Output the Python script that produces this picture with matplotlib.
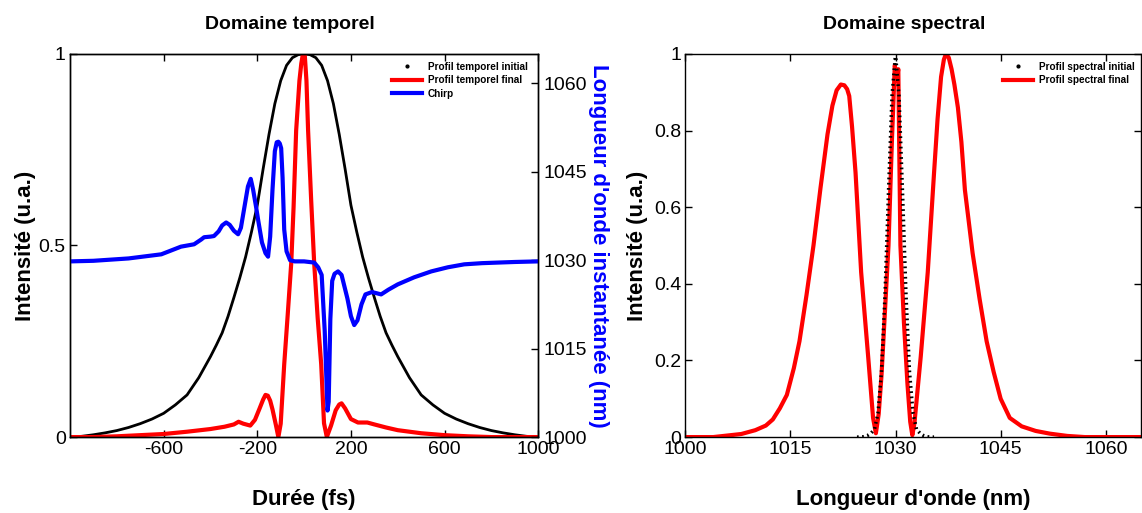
import matplotlib
matplotlib.use("Agg")
import matplotlib.pyplot as plt
from matplotlib.lines import Line2D

plt.rcParams["font.family"] = ["Liberation Sans", "DejaVu Sans"]
plt.rcParams["axes.unicode_minus"] = False

# ---------- temporal domain ----------
t_init = [-1000, -950, -900, -850, -800, -750, -700, -650, -600, -550, -500, -450, -400, -375, -350, -325,
          -300, -275, -250, -225, -200, -175, -150, -125, -100, -75, -50, -25, 0,
          25, 50, 75, 100, 125, 150, 175, 200, 225, 250, 275, 300, 325, 350, 375, 400,
          450, 500, 550, 600, 650, 700, 750, 800, 850, 900, 950, 1000]
I_init = [0.0, 0.002, 0.006, 0.011, 0.017, 0.025, 0.035, 0.047, 0.062, 0.084, 0.11, 0.155, 0.21, 0.24, 0.272,
          0.315, 0.364, 0.415, 0.47, 0.535, 0.605, 0.7, 0.79, 0.87, 0.93, 0.97, 0.99, 0.998, 1.0,
          0.998, 0.99, 0.97, 0.93, 0.87, 0.79, 0.7, 0.605, 0.535, 0.47, 0.415, 0.364, 0.315, 0.272, 0.24, 0.21,
          0.155, 0.11, 0.084, 0.062, 0.047, 0.035, 0.025, 0.017, 0.011, 0.006, 0.002, 0.0]

t_fin = [-1000, -900, -800, -700, -600, -500, -400, -340, -300, -280, -260, -230, -210, -190, -175, -165, -155,
         -145, -135, -120, -110, -100, -85, -70, -55, -45, -34, -20, -12, -5, 3, 10, 17, 30, 43, 58, 73, 85, 97,
         115, 135, 150, 160, 175, 200, 230, 270, 300, 350, 400, 500, 600, 700, 800, 900, 1000]
I_fin = [0.0, 0.0, 0.002, 0.005, 0.008, 0.014, 0.021, 0.027, 0.033, 0.04, 0.035, 0.03, 0.045, 0.075, 0.098, 0.11,
         0.108, 0.095, 0.072, 0.03, 0.0, 0.035, 0.19, 0.32, 0.454, 0.6, 0.8, 0.93, 0.975, 1.0, 0.995, 0.93, 0.8,
         0.62, 0.454, 0.31, 0.19, 0.036, 0.0, 0.03, 0.07, 0.085, 0.088, 0.075, 0.047, 0.038, 0.038, 0.033, 0.025,
         0.018, 0.01, 0.005, 0.002, 0.0, 0.0, 0.0]

t_chirp = [-1000, -900, -750, -610, -526, -470, -440, -427, -400, -385, -365, -350, -333, -318, -300, -282,
           -270, -255, -240, -228, -218, -205, -195, -180, -165, -154, -145, -135, -125, -117, -110, -104, -98,
           -92, -85, -75, -60, -40, 0, 43, 60, 75, 88, 100, 105, 112, 120, 130, 145, 160, 185, 200, 214, 228,
           245, 262, 290, 329, 360, 400, 470, 543, 614, 684, 760, 829, 900, 1000]
lam_chirp = [1029.8, 1029.9, 1030.3, 1031.0, 1032.3, 1032.7, 1033.5, 1033.9, 1034.0, 1034.1, 1034.9, 1035.9,
             1036.4, 1036.0, 1035.0, 1034.4, 1035.5, 1039.0, 1042.5, 1043.8, 1042.0, 1039.0, 1036.5, 1033.0,
             1031.2, 1030.6, 1034.0, 1042.0, 1048.5, 1050.0, 1050.1, 1049.8, 1049.0, 1044.0, 1035.2, 1031.5,
             1030.0, 1029.8, 1029.8, 1029.6, 1028.8, 1027.5, 1018.0, 1004.5, 1006.0, 1020.0, 1026.5, 1027.7,
             1028.1, 1027.5, 1023.5, 1020.5, 1019.0, 1019.8, 1022.5, 1024.2, 1024.6, 1024.2, 1025.0, 1025.9,
             1027.1, 1028.1, 1028.8, 1029.3, 1029.5, 1029.6, 1029.7, 1029.8]

t_ticks = [-600, -200, 200, 600, 1000]
chirp_ticks = [1000, 1015, 1030, 1045, 1060]

# ---------- spectral domain ----------
lam_init = [1024.5, 1025, 1025.5, 1026, 1026.5, 1027, 1027.5, 1028, 1028.5, 1029, 1029.5, 1030,
            1030.5, 1031, 1031.5, 1032, 1032.5, 1033, 1033.5, 1034, 1034.5, 1035, 1035.5]
S_init = [0.0, 0.0, 0.001, 0.004, 0.01, 0.02, 0.062, 0.17, 0.37, 0.64, 0.89, 1.0,
          0.89, 0.64, 0.37, 0.17, 0.062, 0.02, 0.01, 0.004, 0.001, 0.0, 0.0]

lam_fin = [1000, 1004, 1006, 1008, 1010, 1011.5, 1012.5, 1013.5, 1014.5, 1015.5, 1016.3, 1017.3, 1018.3, 1019.3,
           1020.3, 1021.0, 1021.6, 1022.2, 1022.7, 1023.1, 1023.4, 1023.8, 1024.3, 1025.1, 1026.1, 1026.8, 1027.2,
           1027.6, 1028.0, 1028.5, 1029.0, 1029.5, 1029.9, 1030.15, 1030.4, 1030.7, 1031.2, 1031.7, 1032.1, 1032.4,
           1032.7, 1033.6, 1034.6, 1035.5, 1036.0, 1036.5, 1036.9, 1037.2, 1037.6, 1038.0, 1038.4, 1038.9, 1039.4,
           1039.9, 1041, 1042, 1043, 1044, 1045, 1046.3, 1048, 1050, 1052, 1054.5, 1057, 1065]
S_fin = [0.0, 0.0, 0.004, 0.008, 0.018, 0.03, 0.046, 0.075, 0.11, 0.18, 0.25, 0.37, 0.5, 0.65,
         0.79, 0.865, 0.905, 0.92, 0.918, 0.908, 0.89, 0.81, 0.69, 0.43, 0.21, 0.05, 0.01,
         0.06, 0.16, 0.33, 0.5, 0.78, 0.97, 0.93, 0.96, 0.5, 0.3, 0.14, 0.04, 0.005,
         0.036, 0.21, 0.43, 0.69, 0.83, 0.94, 0.985, 1.0, 0.99, 0.96, 0.92, 0.86, 0.77,
         0.645, 0.48, 0.36, 0.25, 0.17, 0.1, 0.05, 0.028, 0.016, 0.009, 0.003, 0.0, 0.0]

lam_ticks = [1000, 1015, 1030, 1045, 1060]
S_ticks = [0, 0.2, 0.4, 0.6, 0.8, 1]

fig = plt.figure(figsize=(11.42, 5.13), dpi=100)

# ---------- left: temporal ----------
ax1 = fig.add_axes([0.0613, 0.148, 0.41, 0.747])
ax1.plot(t_init, I_init, color="black", lw=2)
ax1.plot(t_fin, I_fin, color="#ff0000", lw=3)
ax1.set_xlim(-1000, 1000)
ax1.set_ylim(0, 1)
ax1.set_xticks(t_ticks)
ax1.set_yticks([0, 0.5, 1])
ax1.set_yticklabels(["0", "0.5", "1"])
ax1.tick_params(direction="in", labelsize=14, top=True, length=5, width=1, pad=3)
ax1.set_xlabel("Durée (fs)", fontsize=16, fontweight="bold", labelpad=22)
ax1.set_ylabel("Intensité (u.a.)", fontsize=16, fontweight="bold", labelpad=2)
ax1.set_title("Domaine temporel", fontsize=14, fontweight="bold", pad=18, x=0.47)

ax2 = ax1.twinx()
ax2.plot(t_chirp, lam_chirp, color="#0000ff", lw=3)
ax2.set_ylim(1000, 1065)
ax2.set_yticks(chirp_ticks)
ax2.tick_params(direction="in", labelsize=14, length=5, width=1)
ax2.set_ylabel("Longueur d'onde instantanée (nm)", fontsize=16, fontweight="bold",
               color="#0000ff", rotation=270, labelpad=16)

handles = [Line2D([], [], color="black", marker=".", markersize=4, linestyle="none"),
           Line2D([], [], color="#ff0000", lw=3),
           Line2D([], [], color="#0000ff", lw=3)]
ax2.legend(handles, ["Profil temporel initial", "Profil temporel final", "Chirp"],
           loc="upper right", bbox_to_anchor=(0.99, 0.995), frameon=False,
           prop={"size": 7.2, "weight": "bold"}, handlelength=3.0, labelspacing=0.35,
           handletextpad=0.6, borderaxespad=0.2)

for a in (ax1, ax2):
    for s in a.spines.values():
        s.set_linewidth(1.0)

# ---------- right: spectral ----------
ax3 = fig.add_axes([0.600, 0.148, 0.399, 0.747])
ax3.plot(lam_fin, S_fin, color="#ff0000", lw=3)
ax3.plot(lam_init, S_init, color="black", lw=2.5, linestyle=(0, (0.5, 1.0)))
ax3.set_xlim(1000, 1065)
ax3.set_ylim(0, 1)
ax3.set_xticks(lam_ticks)
ax3.set_yticks(S_ticks)
ax3.set_yticklabels(["0", "0.2", "0.4", "0.6", "0.8", "1"])
ax3.tick_params(direction="in", labelsize=14, top=True, right=True, length=5, width=1, pad=3)
ax3.set_xlabel("Longueur d'onde (nm)", fontsize=16, fontweight="bold", labelpad=22)
ax3.set_ylabel("Intensité (u.a.)", fontsize=16, fontweight="bold", labelpad=4)
ax3.set_title("Domaine spectral", fontsize=14, fontweight="bold", pad=18, x=0.48)
for s in ax3.spines.values():
    s.set_linewidth(1.0)

handles2 = [Line2D([], [], color="black", marker=".", markersize=4, linestyle="none"),
            Line2D([], [], color="#ff0000", lw=3)]
ax3.legend(handles2, ["Profil spectral initial", "Profil spectral final"],
           loc="upper right", bbox_to_anchor=(1.0, 0.995), frameon=False,
           prop={"size": 7.2, "weight": "bold"}, handlelength=3.0, labelspacing=0.35,
           handletextpad=0.6, borderaxespad=0.2)

fig.savefig("out.png", dpi=100)
